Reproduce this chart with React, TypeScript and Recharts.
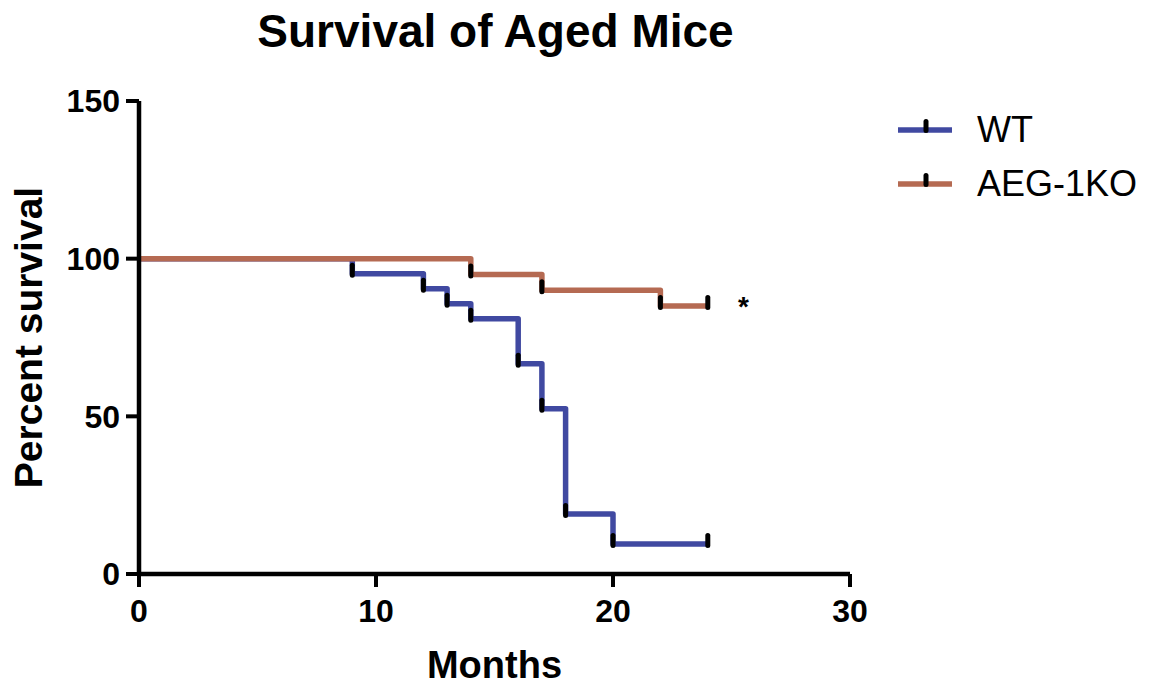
import React from 'react';
import {
  LineChart,
  Line,
  XAxis,
  YAxis,
  ReferenceDot,
} from 'recharts';

// Kaplan-Meier steps (n=21 WT, n=20 KO)
const wtMonths = [0, 9, 12, 13, 14, 16, 17, 18, 20, 24];
const wtSurvival = [100, 95.24, 90.48, 85.71, 80.95, 66.67, 52.38, 19.05, 9.52, 9.52];

const koMonths = [0, 14, 17, 22, 24];
const koSurvival = [100, 95, 90, 85, 85];

const xTicks = [0, 10, 20, 30];
const yTicks = [0, 50, 100, 150];

const seriesNames = ['WT', 'AEG-1KO'];
const WT_COLOR = '#4049A1';
const KO_COLOR = '#B56A52';
const FONT = '"Liberation Sans", Arial, sans-serif';

const wtData = wtMonths.map((m, i) => ({ x: m, y: wtSurvival[i] }));
const koData = koMonths.map((m, i) => ({ x: m, y: koSurvival[i] }));

// black censor tick drawn at each step point (except the start)
const CensorTick = (props: any) => {
  const { cx, cy, index } = props;
  if (index === 0 || cx == null) return <g key={`c${index}`} />;
  return <rect key={`c${index}`} x={cx - 2.5} y={cy - 11} width={5} height={15} rx={2.5} fill="#000" />;
};

const LegendBox = () => {
  const colors = [WT_COLOR, KO_COLOR];
  return (
    <div style={{ position: 'absolute', left: 895, top: 103, fontFamily: FONT }}>
      {seriesNames.map((name, i) => (
        <div key={name} style={{ display: 'flex', alignItems: 'center', height: 54 }}>
          <svg width={82} height={30}>
            <line x1={3} x2={57} y1={15} y2={15} stroke={colors[i]} strokeWidth={5.5} />
            <rect x={28.5} y={4} width={5} height={14} rx={2.5} fill="#000" />
          </svg>
          <span style={{ fontSize: 36, lineHeight: '36px', color: '#000' }}>{name}</span>
        </div>
      ))}
    </div>
  );
};

export default function App() {
  return (
    <div style={{ position: 'absolute', left: 0, top: 0, width: 1161, height: 685, background: '#fff' }}>
      <div
        style={{
          position: 'absolute', left: 0, top: 8, width: 991, textAlign: 'center',
          fontFamily: FONT, fontWeight: 700, fontSize: 46, lineHeight: '46px', color: '#000',
        }}
      >
        Survival of Aged Mice
      </div>
      <LegendBox />
      <LineChart
        width={1161}
        height={685}
        margin={{ top: 101, right: 311, left: 0, bottom: 0 }}
        style={{ fontFamily: FONT }}
      >
        <XAxis
          dataKey="x"
          type="number"
          domain={[0, 30]}
          ticks={xTicks}
          height={111}
          axisLine={{ stroke: '#000', strokeWidth: 4.5 }}
          tickLine={{ stroke: '#000', strokeWidth: 4 }}
          tickSize={13}
          tickMargin={12}
          tick={{ fill: '#000', fontSize: 32, fontWeight: 700 }}
          label={{ value: 'Months', position: 'insideBottom', offset: 7, fill: '#000', fontSize: 38, fontWeight: 700 }}
        />
        <YAxis
          dataKey="y"
          type="number"
          domain={[0, 150]}
          ticks={yTicks}
          width={139}
          axisLine={{ stroke: '#000', strokeWidth: 4.5 }}
          tickLine={{ stroke: '#000', strokeWidth: 4 }}
          tickSize={13}
          tickMargin={6}
          tick={{ fill: '#000', fontSize: 32, fontWeight: 700 }}
          label={{
            value: 'Percent survival', angle: -90, position: 'insideLeft', offset: 28,
            fill: '#000', fontSize: 39, fontWeight: 700, style: { textAnchor: 'middle' },
          }}
        />
        <Line
          data={wtData}
          dataKey="y"
          name={seriesNames[0]}
          type="stepAfter"
          stroke={WT_COLOR}
          strokeWidth={5.5}
          strokeLinejoin="round"
          dot={CensorTick}
          activeDot={false}
          isAnimationActive={false}
        />
        <Line
          data={koData}
          dataKey="y"
          name={seriesNames[1]}
          type="stepAfter"
          stroke={KO_COLOR}
          strokeWidth={5.5}
          strokeLinejoin="round"
          dot={CensorTick}
          activeDot={false}
          isAnimationActive={false}
        />
        <ReferenceDot
          x={25.5}
          y={85}
          r={0}
          fill="none"
          stroke="none"
          label={{ value: '*', position: 'center', fill: '#000', fontSize: 28, fontWeight: 700 }}
        />
      </LineChart>
    </div>
  );
}
